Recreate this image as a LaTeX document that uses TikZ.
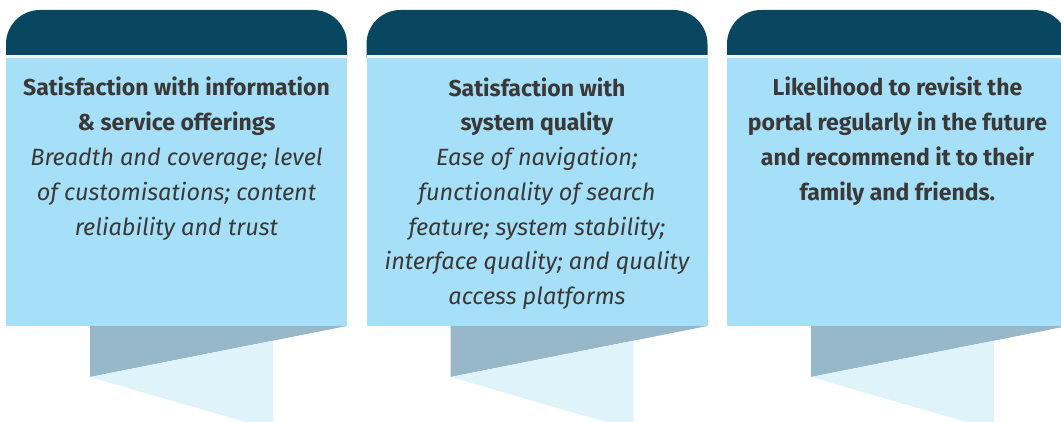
\documentclass[tikz,border=0pt]{standalone}
\usepackage{fontspec}
\setmainfont{Fira Sans}

\definecolor{headblue}{HTML}{08475F}
\definecolor{boxblue}{HTML}{A6E0F8}
\definecolor{foldgray}{HTML}{97B8C9}
\definecolor{foldlight}{HTML}{DFF3FB}
\definecolor{seprule}{HTML}{F2F2F2}
\definecolor{textgray}{HTML}{3B3838}

% italic detail lines are set a touch larger
\newcommand{\detailline}[1]{{\fontsize{23.5}{34.8}\selectfont\itshape #1}}

\begin{document}
\begin{tikzpicture}[x=1pt, y=-1pt,
    head/.style={fill=headblue, rounded corners=34},
    panelbox/.style={fill=boxblue},
    foldback/.style={fill=foldgray},
    foldfront/.style={fill=foldlight},
    paneltext/.style={align=center, anchor=base, text=textgray, inner sep=0pt,
        font=\fontsize{23}{34.8}\selectfont}]
    \clip (0,0) rectangle (1061,422);

    % Panel 1: information and service offerings
    \fill[head] (6,58) -- (6,10) -- (347,10) [sharp corners] -- (347,58) -- cycle;
    \fill[seprule] (6,55) rectangle (347,58);
    \fill[panelbox] (6,58) rectangle (347,326);
    \fill[foldback] (90,326) -- (347,326) -- (90,377) -- cycle;
    \fill[foldfront] (90,377) -- (273,340.7) -- (273,430) -- cycle;
    % base anchor sits on the last line
    \node[paneltext] (infotext) at (176.5,235.2) {\textbf{Satisfaction with information}\\
        \textbf{\& service offerings}\\
        \detailline{Breadth and coverage; level}\\
        \detailline{of customisations; content}\\
        \detailline{reliability and trust}};

    % Panel 2: system quality
    \fill[head] (366.5,58) -- (366.5,10) -- (707.5,10) [sharp corners] -- (707.5,58) -- cycle;
    \fill[seprule] (366.5,55) rectangle (707.5,58);
    \fill[panelbox] (366.5,58) rectangle (707.5,326);
    \fill[foldback] (450.5,326) -- (707.5,326) -- (450.5,377) -- cycle;
    \fill[foldfront] (450.5,377) -- (633.5,340.7) -- (633.5,430) -- cycle;
    \node[paneltext] (systext) at (537,304.8) {\textbf{Satisfaction with}\\
        \textbf{system quality}\\
        \detailline{Ease of navigation;}\\
        \detailline{functionality of search}\\
        \detailline{feature; system stability;}\\
        \detailline{interface quality; and quality}\\
        \detailline{access platforms}};

    % Panel 3: revisit and recommend
    \fill[head] (727,58) -- (727,10) -- (1068,10) [sharp corners] -- (1068,58) -- cycle;
    \fill[seprule] (727,55) rectangle (1068,58);
    \fill[panelbox] (727,58) rectangle (1068,326);
    \fill[foldback] (811,326) -- (1068,326) -- (811,377) -- cycle;
    \fill[foldfront] (811,377) -- (994,340.7) -- (994,430) -- cycle;
    \node[paneltext] (revisittext) at (897.5,200.4) {\textbf{Likelihood to revisit the}\\
        \textbf{portal regularly in the future}\\
        \textbf{and recommend it to their}\\
        \textbf{family and friends.}};
\end{tikzpicture}
\end{document}
